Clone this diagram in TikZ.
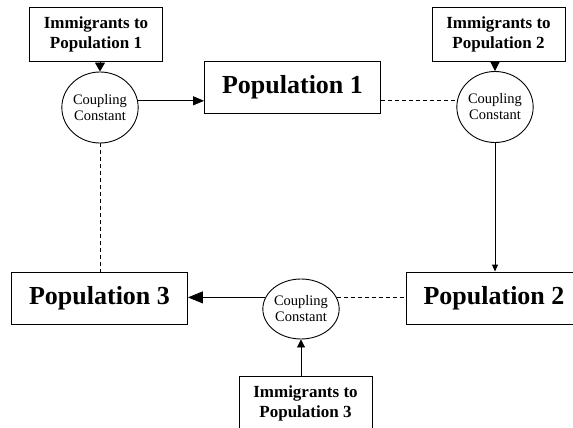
\documentclass[tikz,border=0pt]{standalone}
\usepackage{fontspec}
\setmainfont{Liberation Serif}
\usetikzlibrary{arrows.meta,shapes.geometric}

\begin{document}
\begin{tikzpicture}[x=1pt,y=-1pt,line width=0.9pt,
  popbox/.style={draw,inner sep=0pt,minimum width=176pt,minimum height=52pt,
    font=\fontsize{26}{30}\selectfont\bfseries},
  immbox/.style={draw,inner sep=0pt,minimum width=133pt,minimum height=54pt,align=center,
    font=\fontsize{17}{20}\selectfont\bfseries},
  coupling/.style={draw,ellipse,inner sep=0pt,minimum width=72pt,minimum height=71pt,align=center,
    font=\fontsize{14.5}{16}\selectfont},
  dashline/.style={dash pattern=on 4pt off 3pt},
]
%
\clip (0,0) rectangle (573,428);
%
% immigrants, coupling constants, populations
\node[immbox] (i1) at (96,34.5) {Immigrants to\\Population 1};
\node[immbox] (i2) at (498.5,34.5) {Immigrants to\\Population 2};
\node[immbox] (i3) at (305.5,403.5) {Immigrants to\\Population 3};
\node[coupling] (c1) at (100,107.5) {Coupling\\Constant};
\node[coupling] (c2) at (495,107) {Coupling\\Constant};
\node[coupling,minimum height=60pt] (c3) at (301,309) {Coupling\\Constant};
\node[popbox] (p1) at (292.5,87) {Population 1};
\node[popbox] (p2) at (494,298) {Population 2};
\node[popbox] (p3) at (99.5,298) {Population 3};
%
% immigrants into the couplings
\draw[-{Triangle[length=9pt,width=10pt]}] (i1.south -| c1) -- (c1);
\draw[-{Triangle[length=9pt,width=9pt]}] (i2.south -| c2) -- (c2);
\draw[-{Triangle[length=8pt,width=8pt]}] (i3.north -| c3) -- (c3);
%
% couplings to the populations
\draw[-{Triangle[length=11pt,width=9pt]}] (c1.10) -- (c1.10 -| p1.west);
\draw[-{Triangle[length=7pt,width=6pt]}] (c2) -- (c2 |- p2.north);
\draw[-{Triangle[length=15pt,width=12pt]}] (c3.162) -- (c3.162 -| p3.east);
%
% populations back to the couplings
\draw[dashline] (c2.170 -| p1.east) -- (c2.170);
\draw[dashline] (c3.18) -- (c3.18 -| p2.west);
\draw[dashline] (c1) -- (c1 |- p3.north);
%
\end{tikzpicture}
\end{document}
